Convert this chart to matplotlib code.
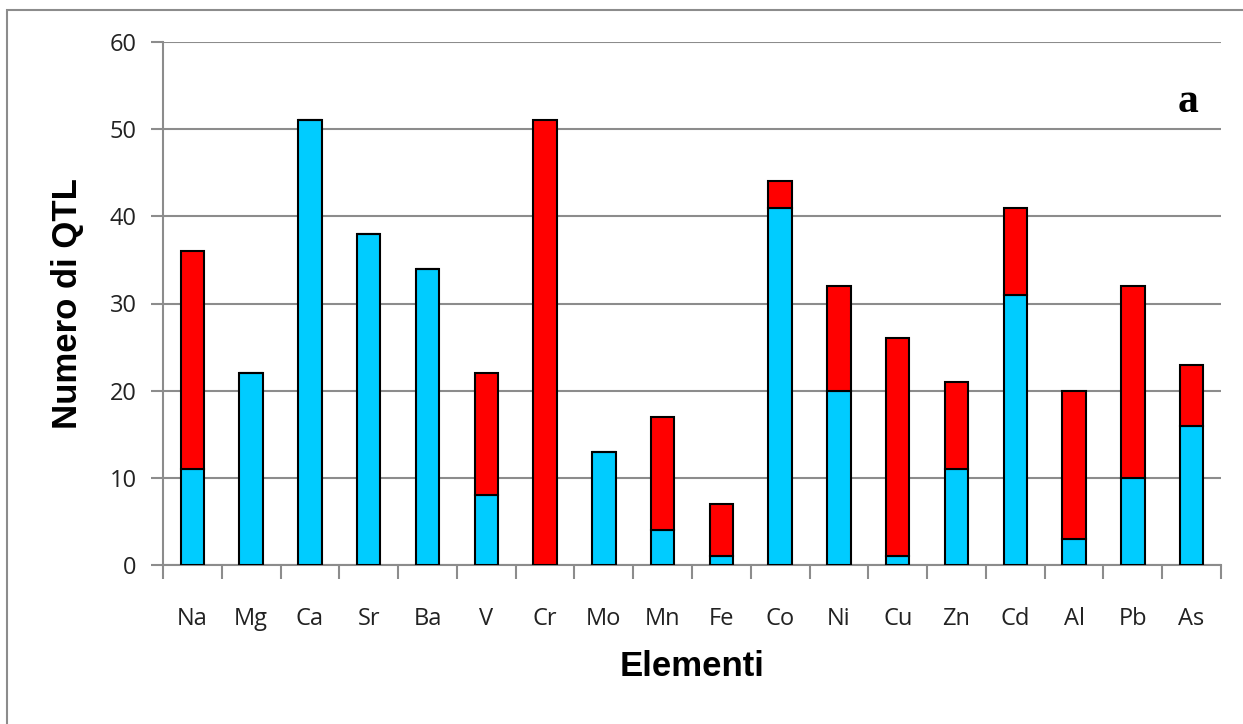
import matplotlib
matplotlib.use("Agg")
import matplotlib.pyplot as plt
import numpy as np
from matplotlib.patches import Rectangle

elements = ["Na", "Mg", "Ca", "Sr", "Ba", "V", "Cr", "Mo", "Mn", "Fe",
            "Co", "Ni", "Cu", "Zn", "Cd", "Al", "Pb", "As"]
blue_vals = [11, 22, 51, 38, 34, 8, 0, 13, 4, 1, 41, 20, 1, 11, 31, 3, 10, 16]
red_vals = [25, 0, 0, 0, 0, 14, 51, 0, 13, 6, 3, 12, 25, 10, 10, 17, 22, 7]
y_ticks = [0, 10, 20, 30, 40, 50, 60]

W, H = 1243, 724
fig = plt.figure(figsize=(W / 100, H / 100), dpi=100)
fig.patch.set_facecolor("white")

# outer frame
fig.add_artist(Rectangle((7 / W, -0.1), 1.2, (H - 10) / H + 0.1, transform=fig.transFigure,
                         fill=False, edgecolor="#8c8c8c", linewidth=1.5))

ax = fig.add_axes([163 / W, (H - 565) / H, (1221 - 163) / W, (565 - 42) / H])
x = np.arange(len(elements))
ax.bar(x, blue_vals, width=0.40, color="#00CCFF", edgecolor="black", linewidth=1.5, zorder=3)
ax.bar(x, red_vals, width=0.40, bottom=blue_vals, color="#FF0000", edgecolor="black",
       linewidth=1.5, zorder=3)

ax.set_xlim(-0.5, len(elements) - 0.5)
ax.set_ylim(0, 60)
ax.set_yticks(y_ticks)
ax.set_yticklabels([str(v) for v in y_ticks], fontsize=17, family="Open Sans", color="#222222")
ax.set_xticks(x)
ax.set_xticklabels(elements, fontsize=17, family="Open Sans", color="#222222")
ax.tick_params(axis="x", length=0, pad=30)
ax.set_xticks(np.arange(-0.5, len(elements)), minor=True)
ax.tick_params(axis="x", which="minor", length=10, width=1.5, color="#8c8c8c")
ax.tick_params(axis="y", length=9, width=1.5, color="#8c8c8c", pad=10)

ax.grid(axis="y", color="#8c8c8c", linewidth=1.5, zorder=0)
for s in ["top", "right"]:
    ax.spines[s].set_visible(False)
for s in ["left", "bottom"]:
    ax.spines[s].set_color("#8c8c8c")
    ax.spines[s].set_linewidth(1.5)

ax.set_ylabel("Numero di QTL", fontsize=25, fontweight="bold", family="Liberation Sans", labelpad=18)
ax.set_xlabel("Elementi", fontsize=25, fontweight="bold", family="Liberation Sans", labelpad=14)

ax.text(0.969, 0.866, "a", transform=ax.transAxes, ha="center", va="baseline",
        fontsize=30, fontweight="bold", family="Liberation Serif")

fig.savefig("out.png", dpi=100)
